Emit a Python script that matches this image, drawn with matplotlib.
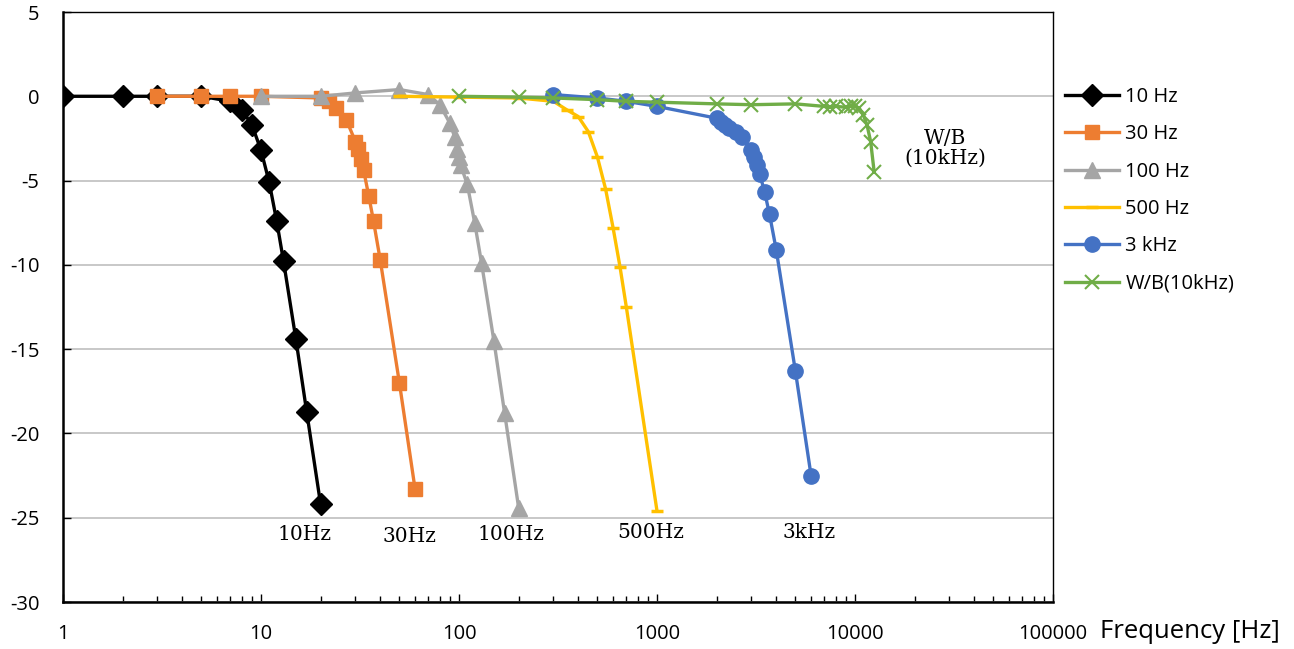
import numpy as np
import matplotlib
matplotlib.use('Agg')
import matplotlib.pyplot as plt
from matplotlib.ticker import FixedLocator, LogLocator, NullFormatter

# ------------------------------------------------------------------
#  Frequency response data (gain in dB vs. frequency in Hz)

f10 = [1, 2, 3, 5, 7, 8, 9, 10, 11, 12, 13, 15, 17, 20]
g10 = [0, 0, 0, 0, -0.3, -0.8, -1.7, -3.2, -5.1, -7.4, -9.8, -14.4, -18.7, -24.2]

f30 = [3, 5, 7, 10, 20, 22, 24, 27, 30, 31, 32, 33, 35, 37, 40, 50, 60]
g30 = [0, 0, 0, 0, -0.1, -0.3, -0.7, -1.4, -2.7, -3.1, -3.7, -4.4, -5.9, -7.4,
       -9.7, -17.0, -23.3]

f100 = [10, 20, 30, 50, 70, 80, 90, 95, 98, 100, 102, 110, 120, 130, 150, 170, 200]
g100 = [0, 0, 0.2, 0.4, 0.1, -0.5, -1.6, -2.4, -3.1, -3.6, -4.1, -5.2, -7.5,
        -9.9, -14.5, -18.8, -24.4]

f500 = [50, 100, 200, 300, 350, 400, 450, 500, 550, 600, 650, 700, 1000]
g500 = [0, -0.05, -0.1, -0.3, -0.8, -1.2, -2.1, -3.6, -5.5, -7.8, -10.1,
        -12.5, -24.6]

f3k = [300, 500, 700, 1000, 2000, 2100, 2200, 2300, 2500, 2700, 3000, 3100,
       3200, 3300, 3500, 3700, 4000, 5000, 6000]
g3k = [0.1, -0.1, -0.3, -0.6, -1.3, -1.5, -1.7, -1.9, -2.1, -2.4, -3.2, -3.6,
       -4.1, -4.6, -5.7, -7.0, -9.1, -16.3, -22.5]

fwb = [100, 200, 300, 500, 700, 1000, 2000, 3000, 5000, 7000, 7500, 8000, 9000,
       9500, 10000, 10500, 11000, 11500, 12000, 12500]
gwb = [0, -0.05, -0.1, -0.2, -0.3, -0.35, -0.45, -0.5, -0.45, -0.6, -0.65,
       -0.6, -0.65, -0.6, -0.6, -0.7, -1.1, -1.7, -2.7, -4.5]

seriesNames = ['10 Hz', '30 Hz', '100 Hz', '500 Hz', '3 kHz', 'W/B(10kHz)']
labelTexts = ['10Hz', '30Hz', '100Hz', '500Hz', '3kHz', 'W/B\n(10kHz)']

yTicks = [5, 0, -5, -10, -15, -20, -25, -30]
xTicks = [1, 10, 100, 1000, 10000, 100000]

# ------------------------------------------------------------------

plt.rcParams['font.family'] = ['Open Sans', 'DejaVu Sans']

fig = plt.figure(figsize=(12.94, 6.49), dpi=100)
ax = fig.add_axes([63/1294, 1 - 602/649, (1053 - 63)/1294, (602 - 12)/649])

lw = 2.4
ax.plot(f10, g10, color='#000000', lw=lw, marker='D', ms=11, label=seriesNames[0], zorder=3)
ax.plot(f30, g30, color='#ED7D31', lw=lw, marker='s', ms=10.5, label=seriesNames[1], zorder=3)
ax.plot(f100, g100, color='#A5A5A5', lw=lw, marker='^', ms=11, label=seriesNames[2], zorder=3)
ax.plot(f500, g500, color='#FFC000', lw=lw, marker='_', ms=9, mew=2.5, label=seriesNames[3], zorder=3)
ax.plot(f3k, g3k, color='#4472C4', lw=lw, marker='o', ms=11, label=seriesNames[4], zorder=3)
ax.plot(fwb, gwb, color='#70AD47', lw=lw, marker='x', ms=10, mew=1.5, label=seriesNames[5], zorder=3)

ax.set_xscale('log')
ax.set_xlim(1, 100000)
ax.set_ylim(-30, 5)

ax.xaxis.set_major_locator(FixedLocator(xTicks))
ax.set_xticklabels([str(v) for v in xTicks])
ax.xaxis.set_minor_locator(LogLocator(base=10, subs=np.arange(2, 10)))
ax.xaxis.set_minor_formatter(NullFormatter())
ax.set_yticks(yTicks)
ax.set_yticklabels([str(v) for v in yTicks])

ax.tick_params(axis='both', which='major', direction='in', length=6, width=1,
               labelsize=14.5, colors='#000000')
ax.tick_params(axis='x', which='minor', direction='in', length=4, width=1)
ax.tick_params(axis='x', which='major', pad=16)
ax.tick_params(axis='y', which='major', pad=17)

ax.grid(axis='y', color='#BFBFBF', lw=1.2)
ax.set_axisbelow(True)
for side in ['left', 'bottom']:
    ax.spines[side].set_linewidth(1.8)
for side in ['top', 'right']:
    ax.spines[side].set_linewidth(1.0)

# curve labels
serif = 'DejaVu Serif'
fs = 14.5
ax.text(16.5, -26.0, labelTexts[0], family=serif, fontsize=fs, ha='center', va='center')
ax.text(56, -26.1, labelTexts[1], family=serif, fontsize=fs, ha='center', va='center')
ax.text(183, -26.0, labelTexts[2], family=serif, fontsize=fs, ha='center', va='center')
ax.text(933, -25.9, labelTexts[3], family=serif, fontsize=fs, ha='center', va='center')
ax.text(5860, -25.9, labelTexts[4], family=serif, fontsize=fs, ha='center', va='center')
ax.text(28500, -3.1, labelTexts[5], family=serif, fontsize=fs, ha='center', va='center',
        linespacing=1.05)

fig.text(1100/1294, 1 - 632/649, 'Frequency [Hz]', fontsize=18.5, ha='left', va='center')

fig.legend(loc='upper left', bbox_to_anchor=(1065/1294, 1 - 87/649), frameon=False,
           fontsize=14.5, handlelength=2.7, handletextpad=0.3, labelspacing=0.86,
           borderaxespad=0, borderpad=0)

fig.savefig('out.png', dpi=100)
